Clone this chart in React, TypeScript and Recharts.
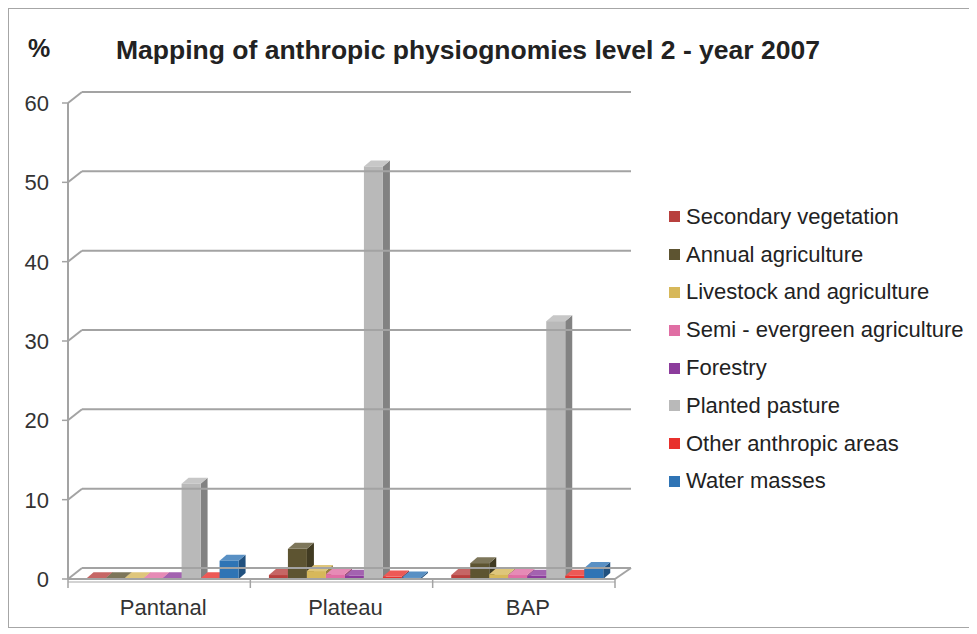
import { BarChart, Bar, XAxis, YAxis } from "recharts";

const categories = ["Pantanal", "Plateau", "BAP"];

const seriesNames = [
  "Secondary vegetation",
  "Annual agriculture",
  "Livestock and agriculture",
  "Semi - evergreen agriculture",
  "Forestry",
  "Planted pasture",
  "Other anthropic areas",
  "Water masses",
];

const seriesColors = [
  "#b8403e",
  "#5d5431",
  "#d7b85a",
  "#e06ea4",
  "#8c3c9c",
  "#b9b9b9",
  "#e8302c",
  "#2f74b5",
];

// one array per series, values by category (Pantanal, Plateau, BAP)
const secondaryVegetation = [0.1, 0.5, 0.5];
const annualAgriculture = [0.1, 3.8, 2.0];
const livestockAgriculture = [0.1, 1.0, 0.6];
const semiEvergreen = [0.1, 0.6, 0.5];
const forestry = [0.1, 0.4, 0.4];
const plantedPasture = [12, 52, 32.5];
const otherAnthropic = [0.1, 0.3, 0.4];
const waterMasses = [2.3, 0.2, 1.4];

const yTicks = [0, 10, 20, 30, 40, 50, 60];

const seriesValues = [
  secondaryVegetation,
  annualAgriculture,
  livestockAgriculture,
  semiEvergreen,
  forestry,
  plantedPasture,
  otherAnthropic,
  waterMasses,
];

const keys = seriesNames.map((_, i) => `s${i}`);
const data = categories.map((name, c) => {
  const row: Record<string, string | number> = { name };
  seriesValues.forEach((vals, i) => {
    row[keys[i]] = vals[c];
  });
  return row;
});

const W = 967;
const H = 620;
const CW = W - 2;
const CH = H - 2;
const PLOT_LEFT = 59;
const PLOT_RIGHT = 606;
const PLOT_TOP = 94;
const PLOT_BOTTOM = 570;
const X_AXIS_H = 30;
const DEPTH_X = 14;
const DEPTH_Y = 11;
const BAR_DX = 7;
const BAR_DY = 6;
const BAR_SHIFT = 4;
const FONT = "'Liberation Sans', Arial, sans-serif";
const GRID = "#a3a3a3";

function shade(hex: string, f: number) {
  const n = parseInt(hex.slice(1), 16);
  const ch = [(n >> 16) & 255, (n >> 8) & 255, n & 255].map((v) =>
    f < 0 ? Math.round(v * (1 + f)) : Math.round(v + (255 - v) * f)
  );
  return `rgb(${ch[0]},${ch[1]},${ch[2]})`;
}

function Bar3D(props: any) {
  const { y, width, height, fill } = props;
  if (height == null || width == null) return null;
  const x = props.x + BAR_SHIFT;
  const w = width;
  const h = height;
  return (
    <g>
      <polygon
        points={`${x + w},${y} ${x + w + BAR_DX},${y - BAR_DY} ${x + w + BAR_DX},${y + h - BAR_DY} ${x + w},${y + h}`}
        fill={shade(fill, -0.3)}
      />
      <polygon
        points={`${x},${y} ${x + BAR_DX},${y - BAR_DY} ${x + w + BAR_DX},${y - BAR_DY} ${x + w},${y}`}
        fill={shade(fill, 0.2)}
      />
      <rect x={x} y={y} width={w} height={h} fill={fill} />
    </g>
  );
}

function YTick(props: any) {
  const { y, payload } = props;
  const gx = PLOT_LEFT + DEPTH_X;
  const gy = y - DEPTH_Y;
  return (
    <g>
      <text
        x={PLOT_LEFT - 19}
        y={y}
        dy={8}
        textAnchor="end"
        fontFamily={FONT}
        fontSize={22}
        fill="#333"
      >
        {payload.value}
      </text>
      <line x1={PLOT_LEFT - 6} y1={y} x2={PLOT_LEFT} y2={y} stroke={GRID} strokeWidth={1.5} />
      <line x1={PLOT_LEFT} y1={y} x2={gx} y2={gy} stroke={GRID} strokeWidth={2} />
      <line x1={gx} y1={gy} x2={PLOT_RIGHT + DEPTH_X + 2} y2={gy} stroke={GRID} strokeWidth={2} />
      {payload.value === 0 && (
        <>
          <line
            x1={PLOT_RIGHT}
            y1={y}
            x2={PLOT_RIGHT + DEPTH_X + 2}
            y2={gy}
            stroke={GRID}
            strokeWidth={2}
          />
          <line x1={PLOT_LEFT} y1={y + 3} x2={PLOT_RIGHT} y2={y + 3} stroke="#c4c4c4" strokeWidth={1.5} />
        </>
      )}
    </g>
  );
}

function XTick(props: any) {
  const { x, y, payload, index } = props;
  const band = (PLOT_RIGHT - PLOT_LEFT) / categories.length;
  return (
    <g>
      <line x1={x - band / 2} y1={PLOT_BOTTOM} x2={x - band / 2} y2={PLOT_BOTTOM + 9} stroke={GRID} strokeWidth={1.5} />
      {index === categories.length - 1 && (
        <line x1={x + band / 2} y1={PLOT_BOTTOM} x2={x + band / 2} y2={PLOT_BOTTOM + 9} stroke={GRID} strokeWidth={1.5} />
      )}
      <text
        x={x + 4}
        y={y}
        dy={28}
        textAnchor="middle"
        fontFamily={FONT}
        fontSize={22}
        fill="#333"
      >
        {payload.value}
      </text>
    </g>
  );
}

function LegendBox() {
  return (
    <div
      style={{
        position: "absolute",
        left: 660,
        top: 189,
        fontFamily: FONT,
        fontSize: 22,
        color: "#222",
      }}
    >
      {seriesNames.map((name, i) => (
        <div
          key={name}
          style={{ display: "flex", alignItems: "center", height: 37.8, whiteSpace: "nowrap" }}
        >
          <span
            style={{
              display: "inline-block",
              width: 11,
              height: 11,
              background: seriesColors[i],
              marginRight: 6,
            }}
          />
          {name}
        </div>
      ))}
    </div>
  );
}

export default function App() {
  return (
    <div
      style={{
        position: "relative",
        width: W,
        height: H,
        border: "1px solid #a6a6a6",
        boxSizing: "border-box",
        background: "#fff",
      }}
    >
      <BarChart
        width={CW}
        height={CH}
        data={data}
        margin={{
          top: PLOT_TOP,
          right: CW - PLOT_RIGHT,
          bottom: CH - PLOT_BOTTOM - X_AXIS_H,
          left: 0,
        }}
        barCategoryGap="8%"
        barGap={0}
        style={{ position: "absolute", left: 0, top: 0 }}
      >
        <YAxis
          type="number"
          domain={[0, 60]}
          ticks={yTicks}
          width={PLOT_LEFT}
          axisLine={{ stroke: GRID, strokeWidth: 2 }}
          tickLine={false}
          tick={<YTick />}
          interval={0}
        />
        <XAxis
          dataKey="name"
          height={X_AXIS_H}
          axisLine={{ stroke: GRID, strokeWidth: 2 }}
          tickLine={false}
          tick={<XTick />}
          interval={0}
        />
        {keys.map((k, i) => (
          <Bar
            key={k}
            dataKey={k}
            name={seriesNames[i]}
            fill={seriesColors[i]}
            shape={<Bar3D />}
            isAnimationActive={false}
          />
        ))}
      </BarChart>
      <div
        style={{
          position: "absolute",
          left: 19,
          top: 25,
          fontFamily: FONT,
          fontWeight: "bold",
          fontSize: 25,
          color: "#222",
        }}
      >
        %
      </div>
      <div
        style={{
          position: "absolute",
          left: 107,
          top: 26,
          fontFamily: FONT,
          fontWeight: "bold",
          fontSize: 26.5,
          color: "#222",
          whiteSpace: "nowrap",
        }}
      >
        Mapping of anthropic physiognomies level 2 - year 2007
      </div>
      <LegendBox />
    </div>
  );
}
